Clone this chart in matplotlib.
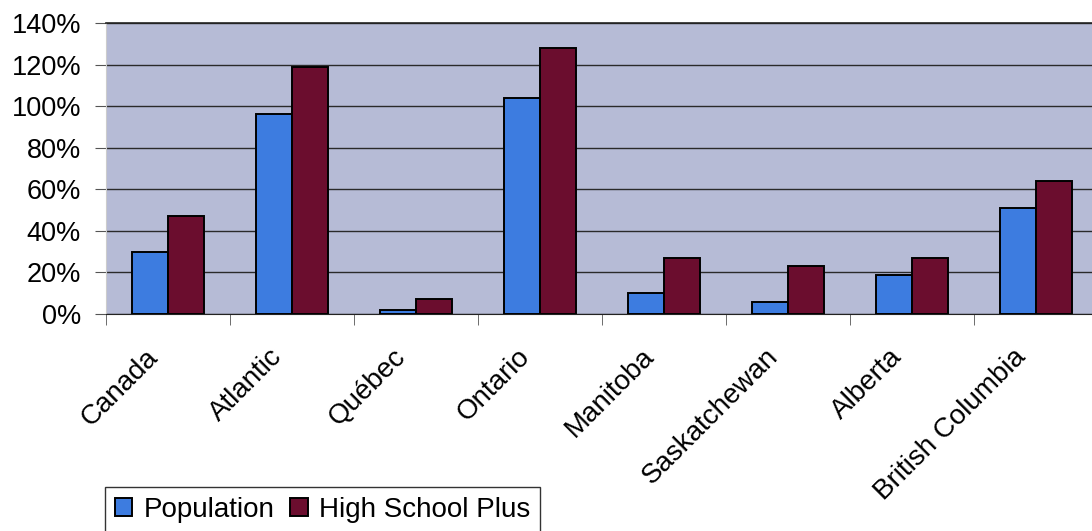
import numpy as np
import matplotlib.pyplot as plt
import matplotlib.transforms as mtransforms
from matplotlib.ticker import PercentFormatter

plt.rcParams['font.family'] = ['Liberation Sans', 'DejaVu Sans']

regions = ['Canada', 'Atlantic', 'Québec', 'Ontario', 'Manitoba',
           'Saskatchewan', 'Alberta', 'British Columbia']
population = [30, 96, 2, 104, 10, 6, 19, 51]
high_school_plus = [47, 119, 7, 128, 27, 23, 27, 64]

ind = np.arange(len(regions))
width = 0.29

fig = plt.figure(figsize=(10.92, 5.31), dpi=100)
ax = fig.add_axes([106 / 1092, 217 / 531, 992 / 1092, 291 / 531])
ax.set_facecolor('#b6bbd6')

ax.bar(ind - width / 2, population, width, color='#3d7ce0',
       edgecolor='black', linewidth=1.4, label='Population', zorder=3)
ax.bar(ind + width / 2, high_school_plus, width, color='#6b0d2e',
       edgecolor='black', linewidth=1.4, label='High School Plus', zorder=3)

ax.set_xlim(-0.5, len(regions) - 0.5)
ax.set_ylim(0, 140)
ax.set_yticks(np.arange(0, 141, 20))
ax.yaxis.set_major_formatter(PercentFormatter(decimals=0))
ax.yaxis.grid(True, color='#2a2a2a', linewidth=1.0, zorder=1)
ax.tick_params(axis='y', labelsize=19.5, length=8, pad=10, color='#555555')

# category boundaries get the tick marks, centres get the labels
ax.set_xticks(ind)
ax.set_xticks(np.arange(-0.5, len(regions)), minor=True)
ax.tick_params(axis='x', which='major', length=0, pad=8)
ax.tick_params(axis='x', which='minor', length=8, color='#555555')
ax.set_xticklabels(regions, rotation=45, ha='right', va='center',
                   rotation_mode='anchor', fontsize=20)
offset = mtransforms.ScaledTranslation(-14 / 100, -28 / 100, fig.dpi_scale_trans)
for lab in ax.get_xticklabels():
    lab.set_transform(lab.get_transform() + offset)

ax.spines['right'].set_visible(False)
ax.spines['left'].set_color('#cccccc')
ax.spines['top'].set_color('#222222')
ax.spines['bottom'].set_color('#222222')
ax.spines['top'].set_linewidth(1.2)

leg = fig.legend(loc='upper left', bbox_to_anchor=(105 / 1092, 1 - 487 / 531),
                 borderaxespad=0, ncol=2, fontsize=20, frameon=True,
                 fancybox=False, handlelength=0.62, handleheight=0.62,
                 handletextpad=0.4, columnspacing=0.58, borderpad=0.36)
leg.get_frame().set_edgecolor('black')
leg.get_frame().set_linewidth(1.0)

fig.savefig('out.png', dpi=100)
